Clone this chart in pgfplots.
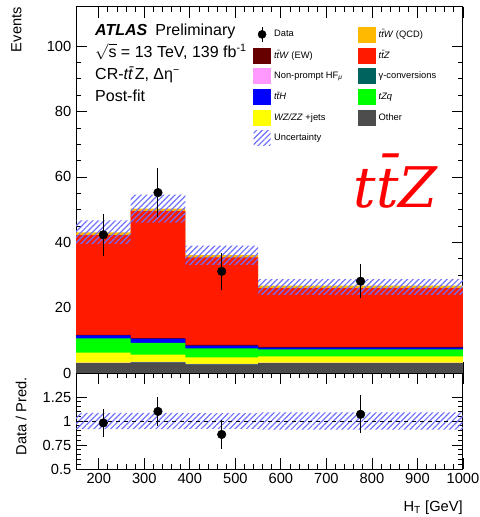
\documentclass[border=0pt]{standalone}
\usepackage{fontspec}
\setmainfont{Liberation Sans}
\newfontfamily\bigserif{DejaVu Serif}
\usepackage{pgfplots}
\pgfplotsset{compat=1.18}
\usetikzlibrary{patterns.meta}
\definecolor{cother}{HTML}{4D4D4D}
\definecolor{cgamma}{HTML}{00635E}
\definecolor{cnonp}{HTML}{FF99FF}
\definecolor{cwz}{HTML}{FFFF00}
\definecolor{ctzq}{HTML}{00FF00}
\definecolor{ctth}{HTML}{0000FF}
\definecolor{cttwew}{HTML}{660000}
\definecolor{cttz}{HTML}{FF1A00}
\definecolor{cttwqcd}{HTML}{FFBA00}
\definecolor{hatch}{HTML}{7070FF}
\newcommand\tb{t\={t}}
\newcommand\la[1]{\makebox[65.25pt][l]{\hspace{2.5pt}#1}}
\newcommand\lb[1]{\hspace{2.5pt}#1}
\newcommand\legbox[1]{\addlegendimage{legend image code/.code={\fill[#1] (0pt,-5.6pt) rectangle (12.75pt,5.6pt);}}}
\pgfplotsset{
  atl/.style={
    width=290.25pt, scale only axis,
    xmin=150, xmax=1000,
    axis line style={line width=0.75pt},
    tick align=inside, xtick pos=both, ytick pos=both,
    major tick length=8pt, minor tick length=4pt,
    tick style={black, line width=0.6pt},
    xtick={200,300,...,1000}, minor x tick num=4,
    tick label style={font=\fontsize{11}{13}\selectfont},
    label style={font=\fontsize{11}{13}\selectfont, inner sep=0pt},
    /pgf/number format/assume math mode=true,
    /pgf/number format/1000 sep={},
  },
  hatchband/.style={draw=none, pattern={Lines[angle=45,distance=3pt,line width=0.9pt]}, pattern color=hatch, forget plot},
  stk/.style={const plot, fill=#1, draw=none, forget plot},
}
\begin{document}
\begin{tikzpicture}
\path[use as bounding box] (-57pt,-108pt) rectangle (302.25pt,279.75pt);
\begin{axis}[atl, name=main, at={(0,0)}, anchor=south west,
  height=274.5pt, ymin=0, ymax=112,
  ytick={0,20,...,100}, minor y tick num=3,
  xticklabels={},
  ylabel={Events},
  ylabel style={at={(rel axis cs:-0.14,1)}, anchor=south east},
  legend style={draw=none, fill=none, at={(rel axis cs:0.447,0.955)}, anchor=north west,
    font=\fontsize{7}{8}\selectfont, row sep=4.0pt, column sep=0pt,
    nodes={inner sep=0pt}},
  legend columns=2, legend cell align=left,
]
% cumulative stack tops, bins 150-270-390-550-1000
\addplot[stk=cttwqcd] coordinates {(150,43.0)(270,50.3)(390,36.1)(550,26.7)(1000,26.7)} \closedcycle;
\addplot[stk=cttz]    coordinates {(150,42.2)(270,49.5)(390,35.4)(550,26.0)(1000,26.0)} \closedcycle;
\addplot[stk=cttwew]  coordinates {(150,11.7)(270,10.7)(390,8.6)(550,8.0)(1000,8.0)} \closedcycle;
\addplot[stk=ctth]    coordinates {(150,11.5)(270,10.5)(390,8.4)(550,7.8)(1000,7.8)} \closedcycle;
\addplot[stk=ctzq]    coordinates {(150,10.6)(270,9.2)(390,7.5)(550,7.2)(1000,7.2)} \closedcycle;
\addplot[stk=cwz]     coordinates {(150,6.2)(270,5.6)(390,4.8)(550,5.1)(1000,5.1)} \closedcycle;
\addplot[stk=cnonp]   coordinates {(150,3.2)(270,3.4)(390,2.8)(550,3.2)(1000,3.2)} \closedcycle;
\addplot[stk=cgamma]  coordinates {(150,3.05)(270,3.25)(390,2.65)(550,3.05)(1000,3.05)} \closedcycle;
\addplot[stk=cother]  coordinates {(150,3.0)(270,3.2)(390,2.6)(550,3.0)(1000,3.0)} \closedcycle;
% uncertainty band: upper edge left to right, lower edge back
\addplot[hatchband] coordinates {
  (150,46.7)(270,46.7)(270,54.6)(390,54.6)(390,39.0)(550,39.0)(550,28.7)(1000,28.7)
  (1000,23.9)(550,23.9)(550,33.1)(390,33.1)(390,46.0)(270,46.0)(270,39.5)(150,39.5)(150,46.7)};
% data
\addplot[only marks, mark=*, mark size=3.2pt, black, forget plot,
  error bars/.cd, y dir=both, y explicit, error mark=none,
  error bar style={line width=0.75pt}]
  coordinates {(210,42.3) +- (0,6.5) (330,55.2) +- (0,7.5) (470,31.1) +- (0,5.6) (775,28.1) +- (0,5.3)};
% legend
\addlegendimage{legend image code/.code={\draw[black,line width=0.75pt] (6.4pt,-5.6pt)--(6.4pt,5.6pt); \fill[black] (6.4pt,0pt) circle (3pt);}}
\addlegendentry{\la{Data}}
\legbox{cttwqcd}\addlegendentry{\lb{\textit{\tb W} (QCD)}}
\legbox{cttwew}\addlegendentry{\la{\textit{\tb W} (EW)}}
\legbox{cttz}\addlegendentry{\lb{\textit{\tb Z}}}
\legbox{cnonp}\addlegendentry{\la{Non-prompt HF\textsubscript{\textit{μ}}}}
\legbox{cgamma}\addlegendentry{\lb{γ-conversions}}
\legbox{ctth}\addlegendentry{\la{\textit{\tb H}}}
\legbox{ctzq}\addlegendentry{\lb{\textit{tZq}}}
\legbox{cwz}\addlegendentry{\la{\textit{WZ/ZZ} +jets}}
\legbox{cother}\addlegendentry{\lb{Other}}
\addlegendimage{legend image code/.code={\path[draw=none, pattern={Lines[angle=45,distance=3pt,line width=0.9pt]}, pattern color=hatch] (0pt,-5.6pt) rectangle (12.75pt,5.6pt);}}
\addlegendentry{\la{Uncertainty}}
% labels
\node[anchor=base west, inner sep=0pt, font=\fontsize{12}{14}\selectfont] at (rel axis cs:0.049,0.921) {\textbf{\textit{ATLAS}}\hspace{0.5em}Preliminary};
\node[anchor=base west, inner sep=0pt, font=\fontsize{12}{14}\selectfont] at (rel axis cs:0.049,0.863) {$\sqrt{\mbox{s}}$ = 13 TeV, 139 fb\textsuperscript{-1}};
\node[anchor=base west, inner sep=0pt, font=\fontsize{12}{14}\selectfont] at (rel axis cs:0.049,0.802) {CR-\textit{\tb}Z, Δη\textsuperscript{−}};
\node[anchor=base west, inner sep=0pt, font=\fontsize{12}{14}\selectfont] at (rel axis cs:0.049,0.742) {Post-fit};
\node[anchor=base, inner sep=0pt, text=red, font=\bigserif\itshape\fontsize{42}{42}\selectfont] at (axis cs:852,50.5) {\tb Z};
\end{axis}
\begin{axis}[atl, at={(main.south west)}, anchor=north west,
  height=72pt, ymin=0.5, ymax=1.5,
  ytick={0.5,0.75,1,1.25}, yticklabels={0.5,0.75,1,1.25}, minor y tick num=4,
  xlabel={H\textsubscript{T} [GeV]},
  xlabel style={at={(rel axis cs:1,-0.33)}, anchor=north east},
  ylabel={Data / Pred.},
  ylabel style={at={(rel axis cs:-0.127,0.55)}, anchor=south},
]
\addplot[hatchband] coordinates {
  (150,1.084)(270,1.084)(270,1.085)(390,1.085)(390,1.082)(550,1.082)(550,1.091)(1000,1.091)
  (1000,0.909)(550,0.909)(550,0.918)(390,0.918)(390,0.915)(270,0.915)(270,0.916)(150,0.916)(150,1.084)};
\addplot[black, dashed, line width=0.5pt] coordinates {(150,1)(1000,1)};
\addplot[only marks, mark=*, mark size=3.2pt, black,
  error bars/.cd, y dir=both, y explicit, error mark=none,
  error bar style={line width=0.75pt}]
  coordinates {(210,0.98) +- (0,0.145) (330,1.10) +- (0,0.15) (470,0.86) +- (0,0.155) (775,1.07) +- (0,0.20)};
\end{axis}
\end{tikzpicture}
\end{document}
